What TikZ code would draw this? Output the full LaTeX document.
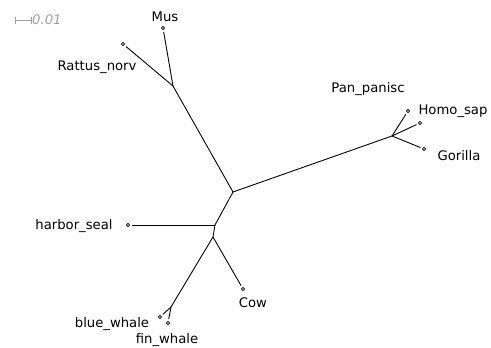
\documentclass[tikz,border=0pt]{standalone}
\usepackage{fontspec}
\setmainfont{DejaVu Sans}
\begin{document}
\begin{tikzpicture}[x=1pt,y=-1pt,
  branch/.style={line width=0.9pt, black, shorten >=2pt},
  tip/.style={circle, draw, line width=0.6pt, inner sep=0pt, minimum size=3.2pt},
  taxon/.style={font=\fontsize{13.2}{15}\selectfont, inner sep=0pt},
  scalebar/.style={draw=gray!75, line width=0.9pt}]
\useasboundingbox (0,0) rectangle (491,348);

% internal nodes
\coordinate (root) at (233,192);
\coordinate (rod) at (173,86);
\coordinate (pri) at (392,136);
\coordinate (low) at (215,225);
\coordinate (ung) at (213,237);
\coordinate (wha) at (171,307);

% leaves
\node[tip] (mus) at (163,28) {};
\node[tip] (rat) at (123,44) {};
\node[tip] (pan) at (408,111) {};
\node[tip] (homo) at (420,123) {};
\node[tip] (gor) at (424,149) {};
\node[tip] (seal) at (128,225) {};
\node[tip] (cow) at (243,289) {};
\node[tip] (blue) at (160,317) {};
\node[tip] (fin) at (168,323) {};

% labels
\node[taxon] (lmus) at (165,17) {Mus};
\node[taxon] (lrat) at (97,67) {Rattus\_norv};
\node[taxon] (lpan) at (368,89) {Pan\_panisc};
\node[taxon] (lhomo) at (453,111) {Homo\_sap};
\node[taxon] (lgor) at (459,156) {Gorilla};
\node[taxon] (lseal) at (74,226) {harbor\_seal};
\node[taxon] (lcow) at (253,303) {Cow};
\node[taxon] (lblue) at (112,324) {blue\_whale};
\node[taxon] (lfin) at (167,340) {fin\_whale};

% branches
\draw[branch, shorten >=0pt] (root) -- (rod);
\draw[branch] (rod) -- (mus);
\draw[branch] (rod) -- (rat);
\draw[branch, shorten >=0pt] (root) -- (pri);
\draw[branch] (pri) -- (pan);
\draw[branch] (pri) -- (homo);
\draw[branch] (pri) -- (gor);
\draw[branch, shorten >=0pt] (root) -- (low);
\draw[branch] (low) -- (seal);
\draw[branch, shorten >=0pt] (low) -- (ung);
\draw[branch] (ung) -- (cow);
\draw[branch, shorten >=0pt] (ung) -- (wha);
\draw[branch] (wha) -- (blue);
\draw[branch] (wha) -- (fin);

% scale bar
\coordinate (sbl) at (15,20);
\coordinate (sbr) at (31,20);
\draw[scalebar] (sbl) -- (sbr);
\draw[scalebar] ([yshift=-3.5]sbl) -- ([yshift=3.5]sbl);
\draw[scalebar] ([yshift=-3.5]sbr) -- ([yshift=3.5]sbr);
\node[font=\fontsize{13.2}{15}\selectfont\itshape, text=gray!75, anchor=west, inner sep=0pt] (sbt) at (32,20) {0.01};
\end{tikzpicture}
\end{document}
